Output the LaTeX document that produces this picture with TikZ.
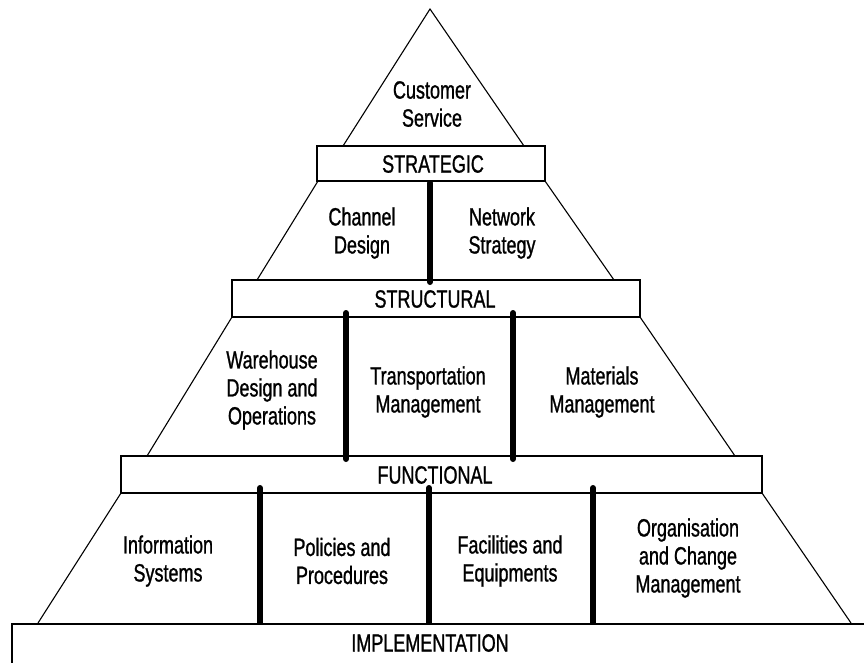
\documentclass[tikz,border=0pt]{standalone}
\usepackage{fontspec}
\newfontfamily\pyrfont[FakeStretch=0.72,FakeBold=1]{Liberation Sans}
\begin{document}
\begin{tikzpicture}[x=1pt,y=-1pt,
  band/.style={draw, line width=1.6pt, fill=white, inner sep=0pt},
  side/.style={line width=1.1pt},
  pillar/.style={line width=6pt, line cap=round},
  lbl/.style={font=\pyrfont\fontsize{25}{28}\selectfont, align=center, inner sep=0pt}]
\useasboundingbox (0,0) rectangle (864,662);
\begin{scope}
\clip (0,0) rectangle (864,662);

% pyramid outline, one tier at a time
\coordinate (apex) at (430,9);
\coordinate (t1l) at (343,146);
\coordinate (t1r) at (524,146);
\draw[side] (t1l) -- (apex) -- (t1r);

\coordinate (t2a) at (318,181);
\coordinate (t2b) at (257,280);
\coordinate (t2c) at (545,181);
\coordinate (t2d) at (614,280);
\draw[side] (t2a) -- (t2b);
\draw[side] (t2c) -- (t2d);

\coordinate (t3a) at (232,317);
\coordinate (t3b) at (147,456);
\coordinate (t3c) at (640,317);
\coordinate (t3d) at (735,456);
\draw[side] (t3a) -- (t3b);
\draw[side] (t3c) -- (t3d);

\coordinate (t4a) at (121,493);
\coordinate (t4b) at (38,623);
\coordinate (t4c) at (762,493);
\coordinate (t4d) at (851,623);
\draw[side] (t4a) -- (t4b);
\draw[side] (t4c) -- (t4d);

% horizontal bands
\node[band, minimum width=228pt, minimum height=35pt] (strat) at (431,163.5) {};
\node[band, minimum width=408pt, minimum height=37pt] (struct) at (436,298.5) {};
\node[band, minimum width=641pt, minimum height=37pt] (func) at (441.5,474.5) {};
\node[band, minimum width=900pt, minimum height=80pt, anchor=north west] (impl) at (11,623) {};

% pillars separating the blocks of each tier
\coordinate (p1a) at (430,183);  \coordinate (p1b) at (430,282);
\draw[pillar] (p1a) -- (p1b);
\coordinate (p2a) at (346,313);  \coordinate (p2b) at (346,459);
\coordinate (p3a) at (513,313);  \coordinate (p3b) at (513,459);
\draw[pillar] (p2a) -- (p2b);
\draw[pillar] (p3a) -- (p3b);
\coordinate (p4a) at (260,488);  \coordinate (p4b) at (260,623);
\coordinate (p5a) at (429,488);  \coordinate (p5b) at (429,623);
\coordinate (p6a) at (593,488);  \coordinate (p6b) at (593,623);
\draw[pillar, line cap=butt] (p4a) -- (p4b);
\draw[pillar, line cap=butt] (p5a) -- (p5b);
\draw[pillar, line cap=butt] (p6a) -- (p6b);
\fill (p4a) circle (3pt);
\fill (p5a) circle (3pt);
\fill (p6a) circle (3pt);
\end{scope}

% band titles
\node[lbl] (strat-l) at (433,164) {STRATEGIC};
\node[lbl] (struct-l) at (435,299) {STRUCTURAL};
\node[lbl] (func-l) at (435,475) {FUNCTIONAL};
\node[lbl] (impl-l) at (430,643) {IMPLEMENTATION};

% block texts
\node[lbl] (cs) at (432,104) {Customer\\Service};
\node[lbl] (cd) at (362,233) {Channel\\Design};
\node[lbl] (ns) at (502,233) {Network\\Strategy};
\node[lbl] (wh) at (272,390) {Warehouse\\Design and\\Operations};
\node[lbl] (tm) at (428,392) {Transportation\\Management};
\node[lbl] (mm) at (602,392) {Materials\\Management};
\node[lbl] (is) at (168,561) {Information\\Systems};
\node[lbl] (pp) at (342,561) {Policies and\\Procedures};
\node[lbl] (fe) at (510,561) {Facilities and\\Equipments};
\node[lbl] (oc) at (688,558) {Organisation\\and Change\\Management};
\end{tikzpicture}
\end{document}
